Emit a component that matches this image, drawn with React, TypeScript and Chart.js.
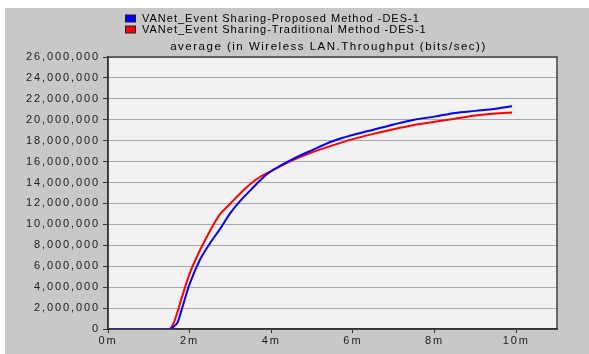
import React, { useEffect, useRef } from "react";
import { Chart, registerables } from "chart.js";

Chart.register(...registerables);

// time in minutes
const times = [0, 1.5, 1.6, 1.7, 1.8, 2.0, 2.25, 2.5, 2.75, 3.0, 3.25, 3.5, 3.75, 4.0, 4.5, 5.0, 5.5, 6.0, 6.5, 7.0, 7.5, 8.0, 8.5, 9.0, 9.5, 9.9];
// bits/sec
const proposed = [0, 0, 200000, 600000, 1800000, 4300000, 6600000, 8200000, 9600000, 11100000, 12300000, 13300000, 14300000, 15100000, 16200000, 17100000, 17950000, 18550000, 19050000, 19550000, 20000000, 20300000, 20650000, 20850000, 21050000, 21300000];
const traditional = [0, 0, 500000, 1600000, 2900000, 5300000, 7500000, 9400000, 11000000, 12000000, 13000000, 13900000, 14600000, 15100000, 16100000, 16900000, 17550000, 18150000, 18650000, 19100000, 19500000, 19800000, 20100000, 20400000, 20600000, 20700000];

const seriesNames = [
  "VANet_Event Sharing-Proposed Method -DES-1",
  "VANet_Event Sharing-Traditional Method -DES-1",
];
const seriesColors = ["#0000ff", "#ff0000"];
const titleText = "average (in Wireless LAN.Throughput (bits/sec))";
const xTickValues = [0, 2, 4, 6, 8, 10];

const FONT = '"Liberation Sans", Arial, sans-serif';
const TICK_SPACING = "1.9px";

export default function App() {
  const ref = useRef<HTMLCanvasElement | null>(null);

  useEffect(() => {
    document.body.style.margin = "0";
    document.body.style.background = "#ffffff";
    const canvas = ref.current!;
    const decor = {
      id: "decor",
      beforeUpdate(chart: any) {
        chart.ctx.letterSpacing = TICK_SPACING;
      },
      beforeDraw(chart: any) {
        const ctx = chart.ctx;
        const a = chart.chartArea;
        ctx.save();
        ctx.fillStyle = "#c8c8c8";
        ctx.fillRect(0, 0, chart.width, chart.height);
        ctx.fillStyle = "#f2f2f2";
        ctx.fillRect(a.left, a.top, a.right - a.left, a.bottom - a.top);
        ctx.restore();
        ctx.letterSpacing = TICK_SPACING;
      },
      afterDraw(chart: any) {
        const ctx = chart.ctx;
        const a = chart.chartArea;
        ctx.save();
        ctx.strokeStyle = "#404040";
        ctx.lineWidth = 1.5;
        ctx.strokeRect(a.left, a.top, a.right - a.left, a.bottom - a.top);
        ctx.letterSpacing = "1px";
        ctx.font = `11px ${FONT}`;
        ctx.textBaseline = "middle";
        ctx.textAlign = "left";
        const rows = [10.5, 21.5];
        seriesNames.forEach((n, i) => {
          const y = rows[i];
          ctx.fillStyle = seriesColors[i];
          ctx.fillRect(120, y - 3.5, 11, 7);
          ctx.strokeStyle = "#202020";
          ctx.lineWidth = 1;
          ctx.strokeRect(120.5, y - 3.5, 10, 7);
          ctx.fillStyle = "#000000";
          ctx.fillText(n, 137, y);
        });
        ctx.letterSpacing = "1.5px";
        ctx.font = `11.5px ${FONT}`;
        ctx.textAlign = "center";
        ctx.fillText(titleText, (a.left + a.right) / 2 - 4, 39);
        ctx.restore();
      },
    };

    const tickFont = { family: FONT, size: 11 };
    const chart = new Chart(canvas, {
      type: "line",
      data: {
        datasets: [
          {
            label: seriesNames[0],
            data: times.map((t, i) => ({ x: t, y: proposed[i] })),
            borderColor: seriesColors[0],
            backgroundColor: seriesColors[0],
            borderWidth: 2,
            pointRadius: 0,
            tension: 0.3,
          },
          {
            label: seriesNames[1],
            data: times.map((t, i) => ({ x: t, y: traditional[i] })),
            borderColor: seriesColors[1],
            backgroundColor: seriesColors[1],
            borderWidth: 2,
            pointRadius: 0,
            tension: 0.3,
          },
        ],
      },
      options: {
        animation: false,
        responsive: false,
        events: [],
        layout: { padding: { top: 49, right: 32, left: 0, bottom: 0 } },
        plugins: {
          legend: { display: false },
          title: { display: false },
          tooltip: { enabled: false },
        },
        scales: {
          x: {
            type: "linear",
            min: 0,
            max: 11,
            afterBuildTicks: (s: any) => {
              s.ticks = xTickValues.map((v) => ({ value: v }));
            },
            ticks: {
              font: tickFont,
              color: "#202020",
              padding: 1,
              maxRotation: 0,
              callback: (v: any) => `${v}m`,
            },
            grid: { drawOnChartArea: false, drawTicks: true, tickLength: 4, tickColor: "#303030" },
            border: { color: "#000000", width: 1.5 },
            afterFit: (s: any) => {
              s.height = 25;
            },
          },
          y: {
            min: 0,
            max: 26000000,
            ticks: {
              stepSize: 2000000,
              font: tickFont,
              color: "#202020",
              padding: 3,
              callback: (v: any) => Number(v).toLocaleString("en-US"),
            },
            grid: { color: "#a8a8a8", lineWidth: 1, tickLength: 5, tickColor: "#303030" },
            border: { color: "#000000", width: 1.5 },
            afterFit: (s: any) => {
              s.width = 103;
            },
          },
        },
      },
      plugins: [decor],
    } as any);
    return () => chart.destroy();
  }, []);

  return (
    <div style={{ paddingTop: 8, paddingLeft: 5, background: "#ffffff", width: 584, height: 346 }}>
      <canvas ref={ref} width={584} height={346} style={{ display: "block", width: 584, height: 346 }} />
    </div>
  );
}
